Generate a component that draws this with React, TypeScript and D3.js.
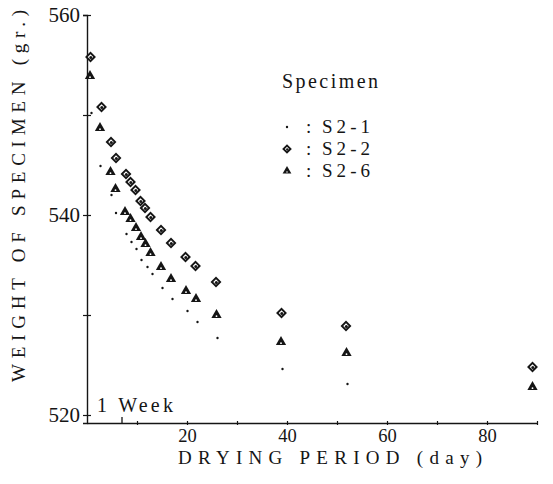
import * as d3 from "d3";
import { useEffect, useRef } from "react";

// drying period (day) and specimen weight (gr.)
const s21Days = [0.9, 2.7, 4.9, 5.8, 7.9, 8.9, 9.9, 10.9, 12.1, 13.1, 15.1, 17.1, 20.1, 22.1, 26.1, 39.1, 52.1];
const s21Weight = [550.2, 544.9, 542.0, 540.2, 538.1, 537.3, 536.6, 535.5, 534.8, 534.1, 532.7, 531.6, 530.4, 529.3, 527.7, 524.6, 523.1];

const s22Days = [0.7, 2.9, 4.8, 5.8, 7.8, 8.7, 9.7, 10.7, 11.6, 12.7, 14.8, 16.8, 19.7, 21.7, 25.8, 38.9, 51.8, 89.1];
const s22Weight = [555.8, 550.8, 547.3, 545.7, 544.1, 543.3, 542.5, 541.4, 540.7, 539.8, 538.5, 537.2, 535.8, 534.9, 533.3, 530.2, 528.9, 524.8];

const s26Days = [0.6, 2.6, 4.7, 5.7, 7.6, 8.7, 9.8, 10.8, 11.7, 12.7, 14.8, 16.8, 19.8, 21.8, 25.9, 38.8, 51.9, 89.1];
const s26Weight = [553.9, 548.7, 544.3, 542.6, 540.3, 539.6, 538.7, 537.8, 537.1, 536.2, 534.8, 533.6, 532.4, 531.6, 530.0, 527.3, 526.2, 522.8];

const specimens = ["S2-1", "S2-2", "S2-6"];
const xTicks = [10, 20, 30, 40, 50, 60, 70, 80, 90];
const xLabels = [20, 40, 60, 80];
const yTicks = [520, 530, 540, 550, 560];
const yLabels = [520, 540, 560];

const W = 553;
const H = 484;
const ink = "#151515";
const font = "Liberation Serif";

const App = () => {
  const ref = useRef<SVGSVGElement>(null);

  useEffect(() => {
    const svg = d3.select(ref.current);
    svg.selectAll("*").remove();

    const x = d3.scaleLinear().domain([0, 90]).range([87, 537]);
    const y = d3.scaleLinear().domain([519.2, 560]).range([423, 15]);

    const txt = (g: any, size: number) =>
      g.append("text").attr("font-family", font).attr("font-size", size).attr("fill", ink);

    // axes (ticks drawn as small crosses)
    const addAxis = (axis: any, tx: number, ty: number, size: number) => {
      const g = svg.append("g").attr("transform", `translate(${tx},${ty})`).call(axis);
      g.attr("font-family", font).attr("font-size", size);
      g.select(".domain").attr("stroke", ink).attr("stroke-width", 1.4);
      g.selectAll(".tick line").attr("stroke", ink).attr("stroke-width", 1.2);
      g.selectAll("text").attr("fill", ink);
      return g;
    };

    addAxis(
      d3.axisLeft(y).tickValues(yTicks).tickSize(4).tickPadding(3)
        .tickFormat((d: any) => (yLabels.includes(d) ? String(d) : "")),
      x(0), 0, 21
    );
    addAxis(d3.axisRight(y).tickValues(yTicks).tickSize(4).tickFormat(() => ""), x(0), 0, 21)
      .select(".domain").remove();

    addAxis(
      d3.axisBottom(x).tickValues(xTicks).tickSize(2).tickSizeOuter(0).tickPadding(4)
        .tickFormat((d: any) => (xLabels.includes(d) ? String(d) : "")),
      0, y(519.2), 18.5
    );
    addAxis(d3.axisTop(x).tickValues(xTicks).tickSize(2).tickFormat(() => ""), 0, y(519.2), 18.5)
      .select(".domain").remove();

    // 1 week marker
    svg.append("line")
      .attr("x1", x(7)).attr("x2", x(7))
      .attr("y1", y(519.2)).attr("y2", y(519.2) - 6)
      .attr("stroke", ink).attr("stroke-width", 1.3);
    txt(svg, 20)
      .attr("x", 97).attr("y", 412)
      .attr("textLength", 76).attr("lengthAdjust", "spacing")
      .text("1 Week");

    // axis titles
    txt(svg, 19)
      .attr("x", 178).attr("y", 464)
      .attr("textLength", 304).attr("lengthAdjust", "spacing")
      .text("DRYING PERIOD (day)");
    txt(svg, 19)
      .attr("transform", "translate(25,382) rotate(-90)")
      .attr("textLength", 372).attr("lengthAdjust", "spacing")
      .text("WEIGHT OF SPECIMEN (gr.)");

    // markers
    const drawDot = (g: any, cx: number, cy: number) => {
      g.append("circle").attr("cx", cx).attr("cy", cy).attr("r", 1.2).attr("fill", ink);
    };
    const drawDiamond = (g: any, cx: number, cy: number, s = 1) => {
      g.append("path")
        .attr("d", d3.symbol(d3.symbolSquare, 34 * s * s)())
        .attr("transform", `translate(${cx},${cy}) rotate(45)`)
        .attr("fill", "#fff").attr("stroke", ink).attr("stroke-width", 1.9);
      g.append("circle").attr("cx", cx + 0.3).attr("cy", cy + 0.4).attr("r", 1.5 * s).attr("fill", ink);
    };
    const drawTriangle = (g: any, cx: number, cy: number, s = 1) => {
      g.append("path")
        .attr("d", d3.symbol(d3.symbolTriangle, 46 * s * s)())
        .attr("transform", `translate(${cx},${cy})`)
        .attr("fill", ink);
      g.append("circle").attr("cx", cx).attr("cy", cy + 1.2 * s).attr("r", 0.9 * s).attr("fill", "#fff");
    };

    const pts = svg.append("g");
    s21Days.forEach((d, i) => drawDot(pts, x(d), y(s21Weight[i])));
    s22Days.forEach((d, i) => drawDiamond(pts, x(d), y(s22Weight[i])));
    s26Days.forEach((d, i) => drawTriangle(pts, x(d), y(s26Weight[i])));

    // legend
    const lg = svg.append("g");
    txt(lg, 20)
      .attr("x", 282).attr("y", 88)
      .attr("textLength", 96).attr("lengthAdjust", "spacing")
      .text("Specimen");
    const rows = [127, 149, 171];
    specimens.forEach((name, i) => {
      if (i === 0) drawDot(lg, 287, rows[i]);
      if (i === 1) drawDiamond(lg, 287, rows[i], 0.85);
      if (i === 2) drawTriangle(lg, 287, rows[i], 0.85);
      txt(lg, 19).attr("x", 306).attr("y", rows[i] + 6).text(":");
      txt(lg, 19)
        .attr("x", 322).attr("y", rows[i] + 6)
        .attr("textLength", 48).attr("lengthAdjust", "spacing")
        .text(name);
    });
  }, []);

  return (
    <svg
      ref={ref}
      width={W}
      height={H}
      style={{ position: "absolute", left: 0, top: 0, background: "#fff" }}
    />
  );
};

export default App;
